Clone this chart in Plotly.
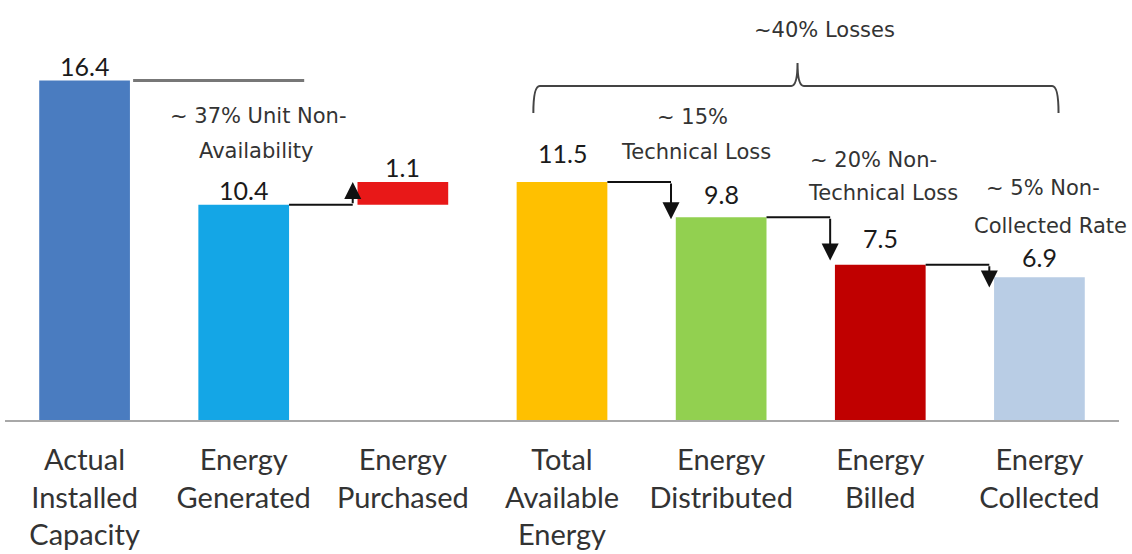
import plotly.graph_objects as go

# ---- data -------------------------------------------------------------
categories = [
    "Actual<br>Installed<br>Capacity",
    "Energy<br>Generated",
    "Energy<br>Purchased",
    "Total<br>Available<br>Energy",
    "Energy<br>Distributed",
    "Energy<br>Billed",
    "Energy<br>Collected",
]
values = [16.4, 10.4, 1.1, 11.5, 9.8, 7.5, 6.9]
value_labels = ["16.4", "10.4", "1.1", "11.5", "9.8", "7.5", "6.9"]
loss_notes = [
    ("~ 15%", "Technical Loss"),
    ("~ 20% Non-", "Technical Loss"),
    ("~ 5% Non-", "Collected Rate"),
]
availability_note = ("~ 37% Unit Non-", "Availability")
total_loss_note = "~40% Losses"

# ---- styling ----------------------------------------------------------
colors = ["#4a7cc0", "#14a6e6", "#e81818", "#ffc000", "#92d050", "#c00000", "#b9cde5"]
BAR_W = 0.57
TICK_FONT = dict(family="Lato, Liberation Sans, sans-serif", size=29, color="#333333")
VALUE_FONT = dict(family="Lato, Liberation Sans, sans-serif", size=25, color="#1a1a1a")
NOTE_FONT = dict(family="DejaVu Sans, Liberation Sans, sans-serif", size=21, color="#333333")
label_shift = [-2, -2, -2, 12, 6, 10, 3]
arrow_dip = [0.1, -0.2, 0.5]   # how far each loss arrow tip reaches past the next bar top

x = list(range(len(categories)))
# the purchased block floats on top of the generated energy
bases = [0] * len(values)
bases[2] = values[1]
tops = [b + v for b, v in zip(bases, values)]

fig = go.Figure()
fig.add_trace(go.Bar(
    x=x, y=values, base=bases, width=BAR_W,
    marker=dict(color=colors, line=dict(width=0)),
    hoverinfo="skip", showlegend=False,
))

annotations = []
shapes = []

# value labels
for i, (t, lab) in enumerate(zip(tops, value_labels)):
    annotations.append(dict(
        x=i, y=t, text=lab, showarrow=False, xanchor="center", yanchor="bottom",
        yshift=label_shift[i], font=VALUE_FONT,
    ))

half = BAR_W / 2
line_black = dict(color="#111111", width=2)

# installed capacity reference line
shapes.append(dict(type="line", xref="x", yref="y", x0=0 + half + 0.02, x1=1.38,
                   y0=values[0], y1=values[0], line=dict(color="#777777", width=3)))

def elbow_arrow(i_from, i_to, y_from, y_to):
    xa = i_to - half - 0.03
    shapes.append(dict(type="line", xref="x", yref="y", x0=i_from + half, x1=xa,
                       y0=y_from, y1=y_from, line=line_black))
    annotations.append(dict(
        x=xa, y=y_to, ax=xa, ay=y_from, xref="x", yref="y", axref="x", ayref="y",
        text="", showarrow=True, arrowhead=2, arrowsize=1.7, arrowwidth=2,
        arrowcolor="#111111", standoff=0,
    ))

# generated -> purchased
elbow_arrow(1, 2, values[1], tops[2])
# losses along the chain
for k, dip in zip(range(3, 6), arrow_dip):
    elbow_arrow(k, k + 1, values[k], values[k + 1] - dip)

# notes
def note(xc, yc, text):
    annotations.append(dict(x=xc, y=yc, text=text, showarrow=False,
                            xanchor="center", yanchor="middle", font=NOTE_FONT))

note(1.09, 14.7, availability_note[0])
note(1.08, 13.0, availability_note[1])
note_pos = [(3.82, 14.64, 3.84, 12.95), (4.96, 12.56, 5.02, 10.97), (6.02, 11.2, 6.07, 9.37)]
for (l1, l2), (x1, y1, x2, y2) in zip(loss_notes, note_pos):
    note(x1, y1, l1)
    note(x2, y2, l2)
note(4.65, 18.84, total_loss_note)

# brace over the distribution chain
bl, bm, br = 2.82, 4.48, 6.12
by, bh, bt = 16.14, 14.83, 17.25
dx = 0.04
brace = (f"M {bl},{bh} Q {bl},{by} {bl+dx},{by} L {bm-dx},{by} "
         f"Q {bm},{by} {bm},{bt} Q {bm},{by} {bm+dx},{by} "
         f"L {br-dx},{by} Q {br},{by} {br},{bh}")
shapes.append(dict(type="path", xref="x", yref="y", path=brace,
                   line=dict(color="#444444", width=2)))

fig.update_layout(
    width=1132, height=554,
    margin=dict(l=5, r=13, t=0, b=134, autoexpand=False),
    paper_bgcolor="white", plot_bgcolor="white",
    annotations=annotations, shapes=shapes,
    xaxis=dict(
        range=[-0.5, 6.5], tickmode="array", tickvals=x, ticktext=categories,
        tickfont=TICK_FONT, showgrid=False, zeroline=False, automargin=False,
        showline=True, linecolor="#a8a8a8", linewidth=2,
        ticks="outside", ticklen=13, tickcolor="rgba(0,0,0,0)",
    ),
    yaxis=dict(range=[0, 20.29], visible=False, showgrid=False, zeroline=False),
)

fig.write_html("out.html")
